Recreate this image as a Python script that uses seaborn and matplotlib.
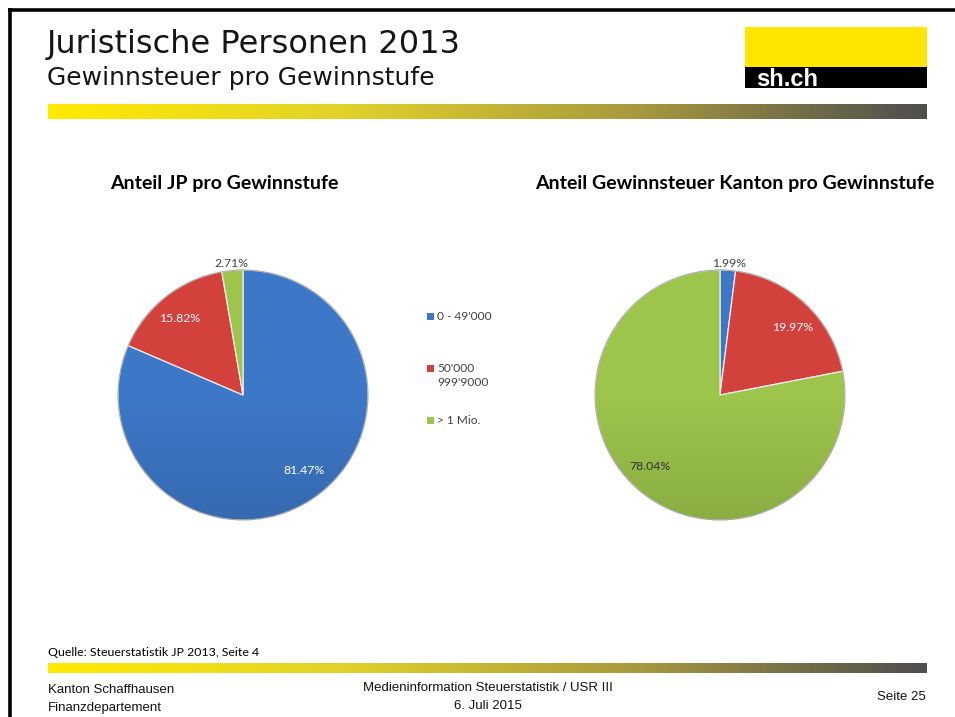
import numpy as np
import matplotlib
matplotlib.use("Agg")
import matplotlib.pyplot as plt
from matplotlib.colors import LinearSegmentedColormap
import seaborn as sns

# ---- data ----
categories = ["0 - 49'000", "50'000\n999'9000", "> 1 Mio."]
share_jp = [81.47, 15.82, 2.71]          # Anteil JP pro Gewinnstufe (%)
share_tax = [1.99, 19.97, 78.04]         # Anteil Gewinnsteuer Kanton (%)
chart_titles = ["Anteil JP pro Gewinnstufe",
                "Anteil Gewinnsteuer Kanton pro Gewinnstufe"]

sns.set_theme(style="white")
plt.rcParams["font.family"] = ["Liberation Sans", "DejaVu Sans"]

palette = sns.color_palette(["#3D78C8", "#D3413D", "#9DC54C"])

W, H = 955, 717
fig = plt.figure(figsize=(W / 100, H / 100), dpi=100)
fig.patch.set_facecolor("white")

# full-page canvas in pixel coordinates
bg = fig.add_axes([0, 0, 1, 1])
bg.axis("off")

# slide frame
bg.plot([9.5, 9.5], [8, H], color="black", lw=2.6, solid_capstyle="butt")
bg.plot([8, W], [9.5, 9.5], color="black", lw=2.6, solid_capstyle="butt")

# header texts (wide sans)
bg.text(47, 52.5, "Juristische Personen 2013", fontsize=23, color="#151515",
        va="baseline", ha="left", family=["DejaVu Sans"])
bg.text(47, 85, "Gewinnsteuer pro Gewinnstufe", fontsize=18, color="#151515",
        va="baseline", ha="left", family=["DejaVu Sans"])

# logo
bg.add_patch(plt.Rectangle((745, 27), 182, 41, color="#FFE500", lw=0))
bg.add_patch(plt.Rectangle((745, 67), 182, 21, color="black", lw=0))
bg.text(756, 86, "sh.ch", fontsize=17, color="white", fontweight="bold",
        va="baseline", ha="left")

# gradient bars
grad_cmap = LinearSegmentedColormap.from_list(
    "band", ["#FFEA00", "#E2D22A", "#A89A3E", "#4E4E4E"])
grad = np.linspace(0, 1, 512).reshape(1, -1)
bg.imshow(grad, cmap=grad_cmap, extent=(48, 926, 119, 104), aspect="auto", zorder=1)
bg.imshow(grad, cmap=grad_cmap, extent=(48, 926, 673, 663), aspect="auto", zorder=1)
bg.set_xlim(0, W)
bg.set_ylim(H, 0)

# chart titles
title_font = ["Lato", "DejaVu Sans"]
bg.text(224, 184, chart_titles[0], fontsize=14, fontweight="bold", family=title_font,
        ha="center", va="center", color="black")
bg.text(735, 184, chart_titles[1], fontsize=14, fontweight="bold", family=title_font,
        ha="center", va="center", color="black")

# source and footer
bg.text(48, 652, "Quelle: Steuerstatistik JP 2013, Seite 4", fontsize=8.9,
        family=title_font, ha="left", va="center", color="black")
foot = dict(fontsize=9.5, color="#111111", va="center")
bg.text(48, 690, "Kanton Schaffhausen", ha="left", **foot)
bg.text(48, 708, "Finanzdepartement", ha="left", **foot)
bg.text(488, 688, "Medieninformation Steuerstatistik / USR III", ha="center", **foot)
bg.text(488, 706, "6. Juli 2015", ha="center", **foot)
bg.text(926, 697, "Seite 25", ha="right", **foot)


def pie_axes(cx, cy, r):
    return fig.add_axes([(cx - r) / W, (H - cy - r) / H, 2 * r / W, 2 * r / H])


shade_cmap = LinearSegmentedColormap.from_list(
    "shade", [(0, 0, 0, 0.0), (0, 0, 0, 0.0), (0, 0, 0, 0.12)])


def draw_pie(ax, values, label_pos, label_colors):
    ax.pie(values, colors=palette, startangle=90, counterclock=False,
           radius=1.0, wedgeprops=dict(edgecolor="#EDEDED", linewidth=0.9))
    # gentle top-to-bottom shading over the disc
    rim = plt.Circle((0, 0), 1.0, transform=ax.transData)
    shade = ax.imshow(np.linspace(0, 1, 256).reshape(-1, 1), cmap=shade_cmap,
                      extent=(-1, 1, -1, 1), origin="upper", aspect="auto", zorder=3)
    shade.set_clip_path(rim)
    ax.add_patch(plt.Circle((0, 0), 1.0, fill=False, edgecolor="#7A7A7A",
                            lw=0.7, alpha=0.6, zorder=4))
    for v, (x, y), c in zip(values, label_pos, label_colors):
        ax.text(x, y, f"{v:.2f}%", ha="center", va="center", fontsize=8.8,
                family=title_font, color=c, zorder=5)
    ax.set_xlim(-1.02, 1.02)
    ax.set_ylim(-1.02, 1.02)
    ax.set_aspect("equal")
    ax.axis("off")


R = 127.5
ax1 = pie_axes(243, 395, R)
draw_pie(ax1, share_jp,
         [(0.49, -0.60), (-0.51, 0.61), (-0.09, 1.05)],
         ["white", "white", "#404040"])

ax2 = pie_axes(720, 395, R)
draw_pie(ax2, share_tax,
         [(0.07, 1.05), (0.58, 0.54), (-0.56, -0.57)],
         ["#404040", "white", "#303030"])

# legend between the pies
leg_y = [316, 368, 420]
for cat, col, y in zip(categories, palette, leg_y):
    bg.add_patch(plt.Rectangle((427, y - 3.5), 7, 7, color=col, lw=0))
    for i, line in enumerate(cat.split("\n")):
        bg.text(437, y + i * 15, line, fontsize=8.6, family=title_font,
                ha="left", va="center", color="#404040")

fig.savefig("out.png", dpi=100, facecolor="white")
